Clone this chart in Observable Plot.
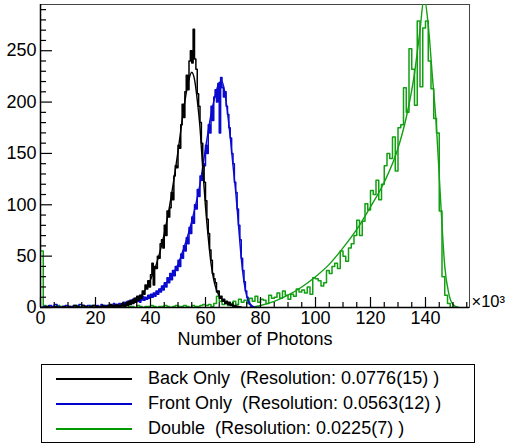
<!DOCTYPE html>
<html><head><meta charset="utf-8">
<script src="https://cdn.jsdelivr.net/npm/d3@7"></script>
<script src="https://cdn.jsdelivr.net/npm/@observablehq/plot@0.6"></script>
<style>
body{margin:0;background:#fff;font-family:"Liberation Sans",Arial,sans-serif;}
#chart{position:absolute;left:0;top:0;}
#legend{position:absolute;left:41px;top:364px;width:432px;height:76px;border:1px solid #000;box-sizing:content-box;padding-top:1px;}
.row{height:25px;display:flex;align-items:center;font-size:18px;white-space:pre;color:#000;}
.sw{width:76px;height:2px;margin-left:14px;margin-right:16px;}
</style></head><body><div id="chart"></div><div id="legend"></div>
<script>
// ---- data ----
const xMajorTicks = [0, 20, 40, 60, 80, 100, 120, 140];
const xMinorTicks = [5,10,15,25,30,35,45,50,55,65,70,75,85,90,95,105,110,115,125,130,135,145,150,155];
const yMajorTicks = [0, 50, 100, 150, 200, 250];
const yMinorTicks = [10,20,30,40,60,70,80,90,110,120,130,140,160,170,180,190,210,220,230,240,260,270,280,290];

// Back Only: bins of width 1 from 0 to 20, then width 0.5 from 20
const backLowCounts = [0,0,1,0,0,1,0,0,1,0,1,0,2,1,0,2,1,0,1,2];
const backCounts = [1,0,1,0,1,2,0,1,1,2,1,3,1,2,1,3,2,1,2,4,
  3,1,5,2,6,3,7,4,9,5,11,7,12,9,16,13,22,18,26,20,
  32,43,22,40,38,50,48,62,66,58,80,70,94,88,97,112,105,128,138,136,
  158,155,178,198,185,210,226,212,240,250,238,271,242,232,208,196,180,160,138,122,
  104,86,72,56,46,33,28,24,15,16,9,11,6,8,4,6,3,5,2,3,
  1,2,0,1,0,0,0,0,0,0];
const backFitX = [25, 30, 33, 36, 38, 40, 42, 44, 46, 48, 50, 52, 53.5, 55, 56, 57, 58, 59, 60, 61, 62, 63, 64, 66, 68, 70, 73];
const backFitY = [0.5, 2, 5, 10, 17, 27, 41, 60, 85, 116, 152, 192, 216, 229, 222, 202, 175, 135, 98, 68, 43, 27, 17, 8, 4, 2, 0.5];

// Front Only
const frontLowCounts = [0,1,0,2,1,3,1,0,1,2,0,1,2,1,3,2,1,2,1,2];
const frontCounts = [1,2,0,1,3,1,2,0,2,1,3,1,2,4,1,3,2,4,2,3,
  5,2,4,6,3,7,4,8,5,9,6,10,5,8,11,7,10,8,12,9,
  13,10,14,11,16,13,18,15,21,17,24,20,29,24,33,27,36,31,40,36,
  46,40,52,48,60,55,68,62,78,72,88,82,100,96,115,108,128,124,140,138,
  158,150,178,170,196,182,205,212,200,218,170,224,214,205,210,196,188,175,165,150,
  140,122,112,96,80,66,48,36,25,16,10,5,3,1,0,0,0,0,0,0];
const frontFitX = [25, 30, 35, 40, 44, 47, 50, 52, 54, 56, 58, 60, 62, 63.5, 65, 66, 67, 68, 69, 70, 71, 72, 73, 74, 75, 76, 78];
const frontFitY = [1, 3, 6, 10, 19, 28, 42, 57, 74, 95, 120, 155, 188, 206, 219, 220, 210, 190, 166, 138, 112, 80, 48, 25, 11, 4, 0];

// Double: bins of width 1 from 0
const doubleCounts = [55,2,1,1,0,1,2,1,0,1,1,0,1,2,1,0,1,1,2,0,
  1,1,0,2,1,1,0,1,2,1,1,0,1,1,0,2,1,0,1,1,
  2,1,0,1,1,2,1,0,1,2,1,1,2,1,0,2,1,1,2,3,
  2,3,1,4,11,6,3,5,2,4,6,3,8,5,7,4,
  9,6,11,5,8,7,4,12,9,10,14,9,16,12,8,13,11,18,15,17,
  14,20,13,29,28,26,21,24,36,33,40,43,38,55,50,45,58,62,70,85,
  70,84,101,95,114,110,124,105,120,138,150,145,166,133,175,178,214,190,252,232,
  197,279,215,272,279,240,213,184,170,94,30,12,4,0,0,0];
const doubleFitX = [76, 80, 85, 90, 95, 100, 105, 110, 115, 120, 125, 130, 133, 136, 138, 139.5, 141, 142.5, 144, 145.5, 147, 148.5, 150, 152];
const doubleFitY = [0, 2, 6, 12, 20, 30, 42, 58, 76, 98, 122, 155, 185, 228, 270, 302, 275, 225, 175, 104, 40, 13, 3, 0];

const seriesNames = ["Back Only", "Front Only", "Double"];
const seriesResolution = ["0.0776(15)", "0.0563(12)", "0.0225(7)"];
const seriesColors = ["#000000", "#0000cc", "#009900"];
const lineColors = ["#000000", "#0a0ad0", "#12a012"];

// ---- build ----
function steps(parts) {
  const pts = [];
  for (const [start, w, vals] of parts) vals.forEach((v, i) => pts.push({x: start + i * w, y: v}));
  const [s, w, vals] = parts[parts.length - 1];
  pts.push({x: s + vals.length * w, y: vals[vals.length - 1]});
  return pts;
}
const fit = (xs, ys) => xs.map((x, i) => ({x, y: ys[i]}));
const backH = steps([[0, 1, backLowCounts], [20, 0.5, backCounts]]);
const frontH = steps([[0, 1, frontLowCounts], [20, 0.5, frontCounts]]);
const doubleH = steps([[0, 1, doubleCounts]]);

const W = 507, H = 355, mL = 40, mR = 38, mT = 4, mB = 48;
const pw = W - mL - mR, ph = H - mT - mB;

const chart = Plot.plot({
  width: W, height: H, marginLeft: mL, marginRight: mR, marginTop: mT, marginBottom: mB,
  x: {domain: [0, 156]},
  y: {domain: [0, 295]},
  style: {fontFamily: "'Liberation Sans', Arial, sans-serif", fontSize: "18px", color: "#000", background: "#fff"},
  marks: [
    Plot.frame({stroke: "#444", strokeWidth: 1}),
    Plot.line(doubleH, {x: "x", y: "y", curve: "step-after", stroke: lineColors[2], strokeWidth: 1.5, clip: true}),
    Plot.line(fit(doubleFitX, doubleFitY), {x: "x", y: "y", curve: "monotone-x", stroke: lineColors[2], strokeWidth: 1.4, clip: true}),
    Plot.line(frontH, {x: "x", y: "y", curve: "step-after", stroke: lineColors[1], strokeWidth: 1.5, clip: true}),
    Plot.line(fit(frontFitX, frontFitY), {x: "x", y: "y", curve: "monotone-x", stroke: lineColors[1], strokeWidth: 1.4, clip: true}),
    Plot.line(backH, {x: "x", y: "y", curve: "step-after", stroke: lineColors[0], strokeWidth: 1.5, clip: true}),
    Plot.line(fit(backFitX, backFitY), {x: "x", y: "y", curve: "monotone-x", stroke: lineColors[0], strokeWidth: 1.4, clip: true}),
    Plot.tickX(xMajorTicks, {x: d => d, insetTop: ph - 10, stroke: "#000", strokeWidth: 1.2}),
    Plot.tickX(xMinorTicks, {x: d => d, insetTop: ph - 5, stroke: "#000", strokeWidth: 1.2}),
    Plot.tickY(yMajorTicks, {y: d => d, insetRight: pw - 12, stroke: "#000", strokeWidth: 1.2}),
    Plot.tickY(yMinorTicks, {y: d => d, insetRight: pw - 6, stroke: "#000", strokeWidth: 1.2}),
    Plot.ruleX([0], {stroke: "#000", strokeWidth: 1.5}),
    Plot.ruleY([0], {stroke: "#000", strokeWidth: 1.5}),
    Plot.axisX(xMajorTicks, {tickSize: 0, tickPadding: 4, fontSize: 18, label: null}),
    Plot.axisY(yMajorTicks, {tickSize: 0, tickPadding: 4, fontSize: 18, label: null}),
    Plot.text(["Number of Photons"], {frameAnchor: "bottom", dy: 32, lineAnchor: "middle", fontSize: 18}),
    Plot.text(["×10³"], {frameAnchor: "bottom-right", dx: 2, dy: -6, textAnchor: "start", lineAnchor: "middle", fontSize: 16.5})
  ]
});
document.getElementById("chart").appendChild(chart);

const legend = document.getElementById("legend");
seriesNames.forEach((n, i) => {
  const row = document.createElement("div");
  row.className = "row";
  const sw = document.createElement("div");
  sw.className = "sw";
  sw.style.background = seriesColors[i];
  const t = document.createElement("span");
  t.textContent = `${n}  (Resolution: ${seriesResolution[i]} )`;
  row.appendChild(sw); row.appendChild(t);
  legend.appendChild(row);
});
</script>
</body></html>
